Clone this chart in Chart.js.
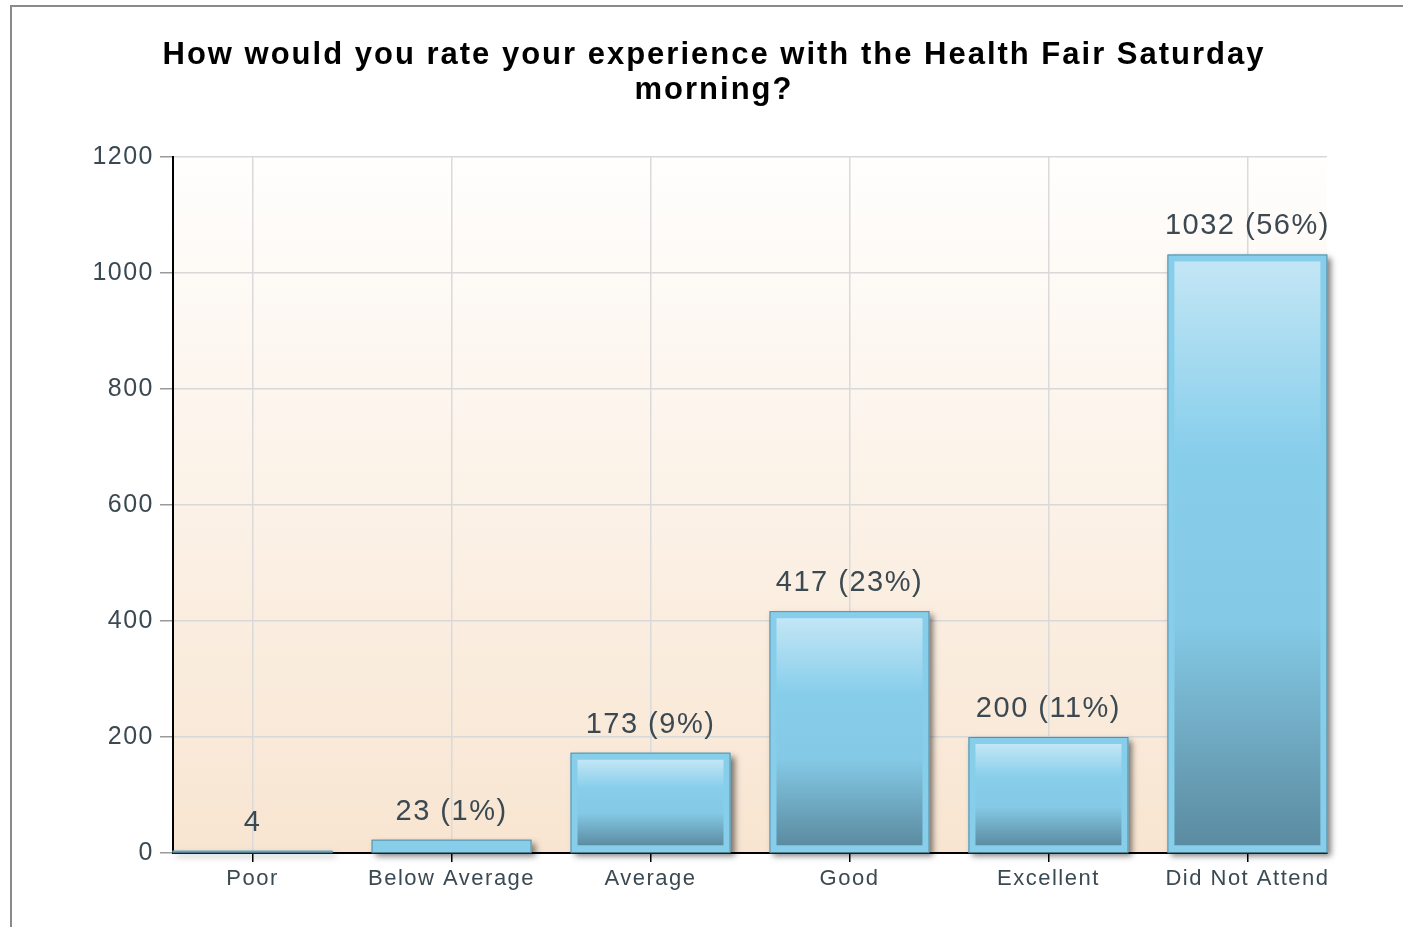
<!DOCTYPE html>
<html>
<head>
<meta charset="utf-8">
<script src="https://cdn.jsdelivr.net/npm/chart.js@4.4.1/dist/chart.umd.min.js"></script>
<style>
  html, body { margin: 0; padding: 0; background: #fff; overflow: hidden; }
  #wrap { position: relative; width: 1403px; height: 927px; }
  #frame { position: absolute; left: 10px; top: 5px; width: 1500px; height: 1000px;
           border-left: 2px solid #8a8a8a; border-top: 2px solid #8a8a8a; pointer-events: none; }
</style>
</head>
<body>
<div id="wrap">
  <canvas id="chart" width="1403" height="927"></canvas>
  <div id="frame"></div>
</div>
<script>
// chart data
const categories = ['Poor', 'Below Average', 'Average', 'Good', 'Excellent', 'Did Not Attend'];
const counts = [4, 23, 173, 417, 200, 1032];
const percents = ['', '1%', '9%', '23%', '11%', '56%'];
const yTicks = [0, 200, 400, 600, 800, 1000, 1200];
const titleLines = ['How would you rate your experience with the Health Fair Saturday', 'morning?'];

const textColor = '#3b4952';
const fontFamily = '"Liberation Sans", Arial, sans-serif';

// peach background inside the plot
const plotBackground = {
  id: 'plotBackground',
  beforeDraw(chart) {
    const ctx = chart.ctx, a = chart.chartArea;
    const g = ctx.createLinearGradient(0, a.top, 0, a.bottom);
    g.addColorStop(0, '#fffefd');
    g.addColorStop(1, '#f8e5d1');
    ctx.save();
    ctx.fillStyle = g;
    ctx.fillRect(a.left, a.top, a.right - a.left, a.bottom - a.top);
    ctx.restore();
  }
};

// drop shadow under the bars + thin outline + value labels
const barExtras = {
  id: 'barExtras',
  beforeDatasetsDraw(chart) {
    const ctx = chart.ctx;
    ctx.save();
    ctx.shadowColor = 'rgba(0,0,0,0.5)';
    ctx.shadowBlur = 6;
    ctx.shadowOffsetX = 4;
    ctx.shadowOffsetY = 4;
    ctx.fillStyle = '#87ceeb';
    chart.getDatasetMeta(0).data.forEach(el => {
      const w = el.width;
      ctx.fillRect(el.x - w / 2, el.y, w, Math.max(el.base - el.y, 1));
    });
    ctx.restore();
  },
  afterDatasetsDraw(chart) {
    const ctx = chart.ctx;
    ctx.save();
    ctx.strokeStyle = '#5d8fa6';
    ctx.lineWidth = 1;
    chart.getDatasetMeta(0).data.forEach(el => {
      const w = el.width;
      ctx.strokeRect(el.x - w / 2 + 0.5, el.y + 0.5, w - 1, el.base - el.y);
    });
    ctx.letterSpacing = '1.5px';
    ctx.font = '29px ' + fontFamily;
    ctx.fillStyle = textColor;
    ctx.textAlign = 'center';
    ctx.textBaseline = 'middle';
    chart.getDatasetMeta(0).data.forEach((el, i) => {
      const txt = percents[i] ? counts[i] + ' (' + percents[i] + ')' : String(counts[i]);
      ctx.fillText(txt, el.x, el.y - 28);
    });
    ctx.restore();
  }
};

// the reference text is a little spaced out; title sits a bit right of canvas centre
const spacing = {
  id: 'spacing',
  beforeLayout(chart) { chart.ctx.letterSpacing = '1.5px'; },
  beforeDraw(chart) { chart.ctx.letterSpacing = '1.5px'; },
  afterLayout(chart) {
    const tb = chart.titleBlock;
    if (tb && !tb._spaced) {
      const draw = tb.draw.bind(tb);
      tb.draw = function () {
        const c = chart.ctx;
        c.save();
        c.letterSpacing = '2px';
        c.translate(20.5, 0);
        draw();
        c.restore();
      };
      tb._spaced = true;
    }
  }
};

function barFill(context) {
  const chart = context.chart;
  const y = chart.scales.y;
  if (!y || !context.raw) return '#87ceeb';
  const top = y.getPixelForValue(context.raw.y);
  const bottom = y.getPixelForValue(0);
  if (!(bottom - top > 16)) return '#4f7a8e';
  const g = chart.ctx.createLinearGradient(0, top + 7, 0, bottom - 7);
  g.addColorStop(0, '#c3e6f5');
  g.addColorStop(0.33, '#87ceeb');
  g.addColorStop(0.62, '#84c9e5');
  g.addColorStop(1, '#5b8ba0');
  return g;
}

new Chart(document.getElementById('chart'), {
  type: 'bar',
  data: {
    datasets: [{
      data: counts.map((v, i) => ({ x: i, y: v })),
      backgroundColor: barFill,
      borderColor: '#87ceeb',
      borderWidth: 7,
      borderSkipped: false,
      barPercentage: 0.804,
      categoryPercentage: 1
    }]
  },
  plugins: [spacing, plotBackground, barExtras],
  options: {
    responsive: false,
    animation: false,
    layout: { padding: { left: 60, right: 76, top: 0, bottom: 0 } },
    plugins: {
      legend: { display: false },
      tooltip: { enabled: false },
      title: {
        display: true,
        text: titleLines,
        color: '#000',
        font: { family: fontFamily, size: 31, weight: 'bold', lineHeight: 1.13 },
        padding: { top: 38, bottom: 49 }
      }
    },
    scales: {
      x: {
        type: 'linear',
        min: -0.4,
        max: 5.4,
        offset: false,
        afterFit(scale) { scale.height = 74; },
        afterBuildTicks(scale) { scale.ticks = categories.map((c, i) => ({ value: i })); },
        ticks: {
          autoSkip: false,
          maxRotation: 0,
          padding: 4,
          color: textColor,
          font: { family: fontFamily, size: 22 },
          callback: v => categories[v]
        },
        grid: { color: '#dadada', tickColor: '#000', tickLength: 9, lineWidth: 1.5, offset: false },
        border: { color: '#000', width: 2 }
      },
      y: {
        min: 0,
        max: 1200,
        afterFit(scale) { scale.width = 113; },
        afterBuildTicks(scale) { scale.ticks = yTicks.map(v => ({ value: v })); },
        ticks: {
          padding: 6,
          color: textColor,
          font: { family: fontFamily, size: 25 },
          callback: v => String(v)
        },
        grid: { color: '#d8d8d8', tickColor: '#9a9a9a', tickLength: 13, lineWidth: 1.5 },
        border: { color: '#000', width: 2 }
      }
    }
  }
});
</script>
</body>
</html>
